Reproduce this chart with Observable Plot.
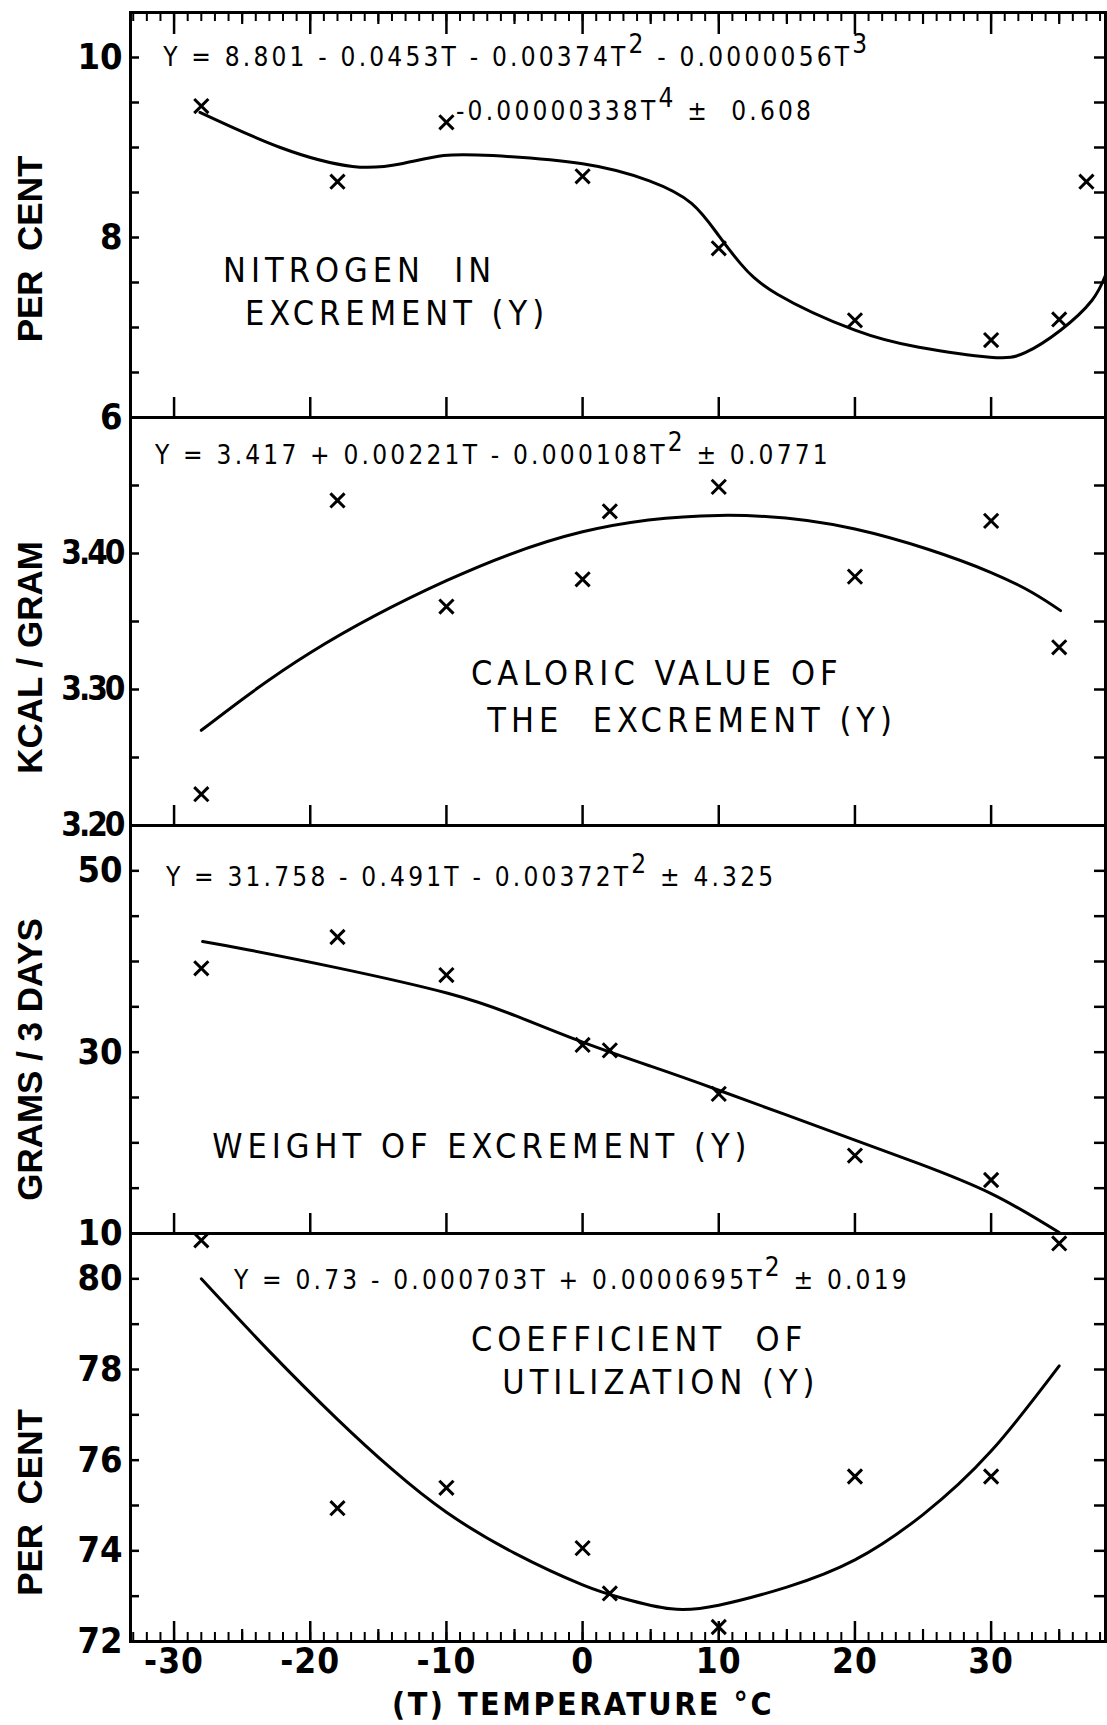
<!DOCTYPE html>
<html><head><meta charset="utf-8">
<script src="https://cdn.jsdelivr.net/npm/d3@7"></script>
<script src="https://cdn.jsdelivr.net/npm/@observablehq/plot@0.6"></script>
<style>
body{margin:0;background:#fff;}
#chart{position:relative;width:1107px;height:1725px;overflow:hidden;}
#chart svg{position:absolute;left:0;overflow:visible;background:transparent;}
g[aria-description="formula"] text{letter-spacing:3.2px;}
g[aria-description="caption"] text{letter-spacing:5px;}
g[aria-label="x-axis tick label"] text{letter-spacing:1px;}
g[aria-description="temperature title"] text{letter-spacing:2.5px;}
svg.tight g[aria-label="y-axis tick label"] text{letter-spacing:-3px;}
</style></head><body><div id="chart"></div>
<script>
// ---------- data ----------
const tempTicksMajor = [-30, -20, -10, 0, 10, 20, 30];
const tempTicksMid = [-25, -15, -5, 5, 15, 25, 35];
const tempTicksMinor = d3.range(-33, 39);

const nitrogenT = [-28, -18, -10, 0, 10, 20, 30, 35, 37];
const nitrogenPct = [9.46, 8.62, 9.28, 8.68, 7.88, 7.08, 6.86, 7.09, 8.62];
const nitrogenFitT = [-28.1, -22.2, -16.9, -13.3, -10.2, -6.6, 0, 4.9, 8.0, 10, 11.6, 14.3, 20, 24.7, 29.9, 32.5, 35.1, 37.4, 38.4];
const nitrogenFitPct = [9.39, 9.00, 8.79, 8.82, 8.91, 8.91, 8.82, 8.63, 8.38, 8.02, 7.71, 7.37, 6.97, 6.78, 6.67, 6.72, 6.97, 7.30, 7.58];

const caloricT = [-28, -18, -10, 0, 2, 10, 20, 30, 35];
const caloricKcal = [3.223, 3.439, 3.361, 3.381, 3.431, 3.449, 3.383, 3.424, 3.331];
const caloricFitT = [-28, -20, -10, 0, 10, 20, 30, 35.1];
const caloricFitKcal = [3.270, 3.327, 3.380, 3.416, 3.428, 3.418, 3.386, 3.358];

const weightT = [-28, -18, -10, 0, 2, 10, 20, 30];
const weightGrams = [39.25, 42.7, 38.5, 30.8, 30.2, 25.4, 18.6, 15.9];
const weightFitT = [-27.9, -24.6, -18, -9.9, -4.9, 0, 4.9, 10, 20, 24.7, 30, 35];
const weightFitGrams = [42.2, 41.3, 39.3, 36.5, 34.0, 31.1, 28.5, 25.8, 20.3, 17.7, 14.4, 10.1];

const coefT = [-28, -18, -10, 0, 2, 10, 20, 30, 35];
const coefPct = [80.85, 74.94, 75.39, 74.06, 73.06, 72.32, 75.64, 75.64, 80.78];
const coefFitT = [-28, -23, -18, -14, -10, -5, 0, 3, 6.5, 10, 15, 20, 25, 30, 35];
const coefFitPct = [80.0, 78.4, 76.9, 75.8, 74.85, 73.95, 73.25, 72.95, 72.72, 72.8, 73.2, 73.8, 74.8, 76.2, 78.08];

const nitrogenTicks = [6, 6.5, 7, 7.5, 8, 8.5, 9, 9.5, 10];
const nitrogenLabels = [6, 8, 10];
const caloricTicks = [3.2, 3.25, 3.3, 3.35, 3.4, 3.45];
const caloricLabels = [3.2, 3.3, 3.4];
const weightTicks = [10, 15, 20, 25, 30, 35, 40, 45, 50];
const weightLabels = [10, 30, 50];
const coefTicks = [72, 73, 74, 75, 76, 77, 78, 79, 80];
const coefLabels = [72, 74, 76, 78, 80];

// ---------- helpers ----------
const FN = "'Liberation Sans Narrow','DejaVu Sans Condensed','Arial Narrow',sans-serif";
const FB = "'Liberation Sans',Arial,sans-serif";
const zipPts = (ts, vs) => ts.map((t, i) => ({t, v: vs[i]}));
const xDomain = [-33.2, 38.4];
const W = 1107, ML = 130, MR = 2, innerW = W - ML - MR;

const panels = [
  {
    top: 0, mTop: 12, frameH: 405, mBottom: 20, yDomain: [6, 10.5],
    ticks: nitrogenTicks, labels: nitrogenLabels, fmt: d => String(d), tight: false,
    title: "PER  CENT", titleDy: 34,
    pts: zipPts(nitrogenT, nitrogenPct), fit: zipPts(nitrogenFitT, nitrogenFitPct),
    formulas: [
      {t: -30.8, v: 10.0, s: "Y = 8.801 - 0.0453T - 0.00374T^2 - 0.0000056T^3"},
      {t: -9.3, v: 9.4, s: "-0.00000338T^4 ±  0.608"}
    ],
    captions: [
      {t: -26.4, v: 7.63, s: "NITROGEN  IN"},
      {t: -24.8, v: 7.15, s: "EXCREMENT (Y)"}
    ],
    topAxis: true, last: false
  },
  {
    top: 397, mTop: 20, frameH: 408, mBottom: 20, yDomain: [3.2, 3.5],
    ticks: caloricTicks, labels: caloricLabels, fmt: d3.format(".2f"), tight: true,
    title: "KCAL / GRAM", titleDy: 36,
    pts: zipPts(caloricT, caloricKcal), fit: zipPts(caloricFitT, caloricFitKcal),
    formulas: [{t: -31.4, v: 3.472, s: "Y = 3.417 + 0.00221T - 0.000108T^2 ± 0.0771"}],
    captions: [
      {t: -8.2, v: 3.311, s: "CALORIC VALUE OF"},
      {t: -7.0, v: 3.277, s: "THE  EXCREMENT (Y)"}
    ],
    topAxis: false, last: false
  },
  {
    top: 805, mTop: 20, frameH: 408, mBottom: 20, yDomain: [10, 55],
    ticks: weightTicks, labels: weightLabels, fmt: d => String(d), tight: false,
    title: "GRAMS / 3 DAYS", titleDy: 30,
    pts: zipPts(weightT, weightGrams), fit: zipPts(weightFitT, weightFitGrams),
    formulas: [{t: -30.6, v: 49.3, s: "Y = 31.758 - 0.491T - 0.00372T^2 ± 4.325"}],
    captions: [{t: -27.2, v: 19.5, s: "WEIGHT OF EXCREMENT (Y)"}],
    topAxis: false, last: false
  },
  {
    top: 1213, mTop: 20, frameH: 408, mBottom: 84, yDomain: [72, 81],
    ticks: coefTicks, labels: coefLabels, fmt: d => String(d), tight: false,
    title: "PER  CENT", titleDy: 65,
    pts: zipPts(coefT, coefPct), fit: zipPts(coefFitT, coefFitPct),
    formulas: [{t: -25.6, v: 79.96, s: "Y = 0.73 - 0.000703T + 0.0000695T^2 ± 0.019"}],
    captions: [
      {t: -8.2, v: 78.65, s: "COEFFICIENT  OF"},
      {t: -5.9, v: 77.7, s: "UTILIZATION (Y)"}
    ],
    topAxis: false, last: true
  }
];

function superscripts(svg) {
  svg.querySelectorAll('g[aria-description="formula"] text').forEach(t => {
    const src = t.textContent;
    if (!src.includes("^")) return;
    const parts = src.split(/\^(\d)/);
    while (t.firstChild) t.removeChild(t.firstChild);
    parts.forEach((p, i) => {
      const ts = document.createElementNS("http://www.w3.org/2000/svg", "tspan");
      ts.textContent = p;
      if (i % 2 === 1) ts.setAttribute("dy", "-13");
      else if (i > 0) ts.setAttribute("dy", "13");
      t.appendChild(ts);
    });
  });
}

const chart = document.getElementById("chart");
panels.forEach(p => {
  const marks = [
    Plot.frame({stroke: "black", strokeWidth: 3}),
    Plot.tickY(p.ticks, {y: d => d, insetRight: innerW - 9, strokeWidth: 2.5}),
    Plot.axisY(p.ticks, {anchor: "right", tickSize: -12, strokeWidth: 2.5, fill: "none"}),
    Plot.axisY(p.labels, {anchor: "left", tickSize: 0, tickPadding: 8, tickFormat: p.fmt,
      fontSize: p.tight ? 33 : 36, fontWeight: "bold", fontFamily: FN, label: null}),
    Plot.text([p.title], {frameAnchor: "left", dx: -100, dy: p.titleDy, rotate: -90,
      textAnchor: "middle", lineAnchor: "middle",
      fontSize: 35, fontWeight: "bold", fontFamily: FB, text: d => d}),
    Plot.line(p.fit, {x: "t", y: "v", curve: "natural", stroke: "black", strokeWidth: 3}),
    Plot.dot(p.pts, {x: "t", y: "v", symbol: "times", r: 6.5, stroke: "black", strokeWidth: 3}),
    Plot.text(p.formulas, {x: "t", y: "v", text: "s", textAnchor: "start", fontSize: 26,
      fontFamily: FN, ariaDescription: "formula"}),
    Plot.text(p.captions, {x: "t", y: "v", text: "s", textAnchor: "start", fontSize: 34,
      fontFamily: FN, ariaDescription: "caption"})
  ];
  if (p.topAxis) {
    marks.push(
      Plot.tickX(tempTicksMinor, {x: d => d, insetBottom: p.frameH - 9, strokeWidth: 2}),
      Plot.tickX(tempTicksMid, {x: d => d, insetBottom: p.frameH - 12, strokeWidth: 2.2}),
      Plot.tickX(tempTicksMajor, {x: d => d, insetBottom: p.frameH - 22, strokeWidth: 2.5})
    );
  }
  if (p.last) {
    marks.push(
      Plot.axisX(tempTicksMinor, {anchor: "bottom", tickSize: -9, strokeWidth: 2, fill: "none"}),
      Plot.axisX(tempTicksMid, {anchor: "bottom", tickSize: -12, strokeWidth: 2.2, fill: "none"}),
      Plot.axisX(tempTicksMajor, {anchor: "bottom", tickSize: -20, strokeWidth: 2.5, fill: "none"}),
      Plot.axisX(tempTicksMajor, {anchor: "bottom", tickSize: 0, tickPadding: 7, fontSize: 35,
        tickFormat: d => String(d), fontWeight: "bold", fontFamily: FN, label: null}),
      Plot.text(["(T) TEMPERATURE °C"], {frameAnchor: "bottom", dx: -35, dy: 63, lineAnchor: "middle",
        textAnchor: "middle", fontSize: 32, fontWeight: "bold",
        fontFamily: FN, text: d => d, ariaDescription: "temperature title"})
    );
  } else {
    marks.push(Plot.axisX(tempTicksMajor, {anchor: "bottom", tickSize: -20, strokeWidth: 2.5, fill: "none"}));
  }
  const svg = Plot.plot({
    width: W, height: p.mTop + p.frameH + p.mBottom,
    marginLeft: ML, marginRight: MR, marginTop: p.mTop, marginBottom: p.mBottom,
    x: {domain: xDomain}, y: {domain: p.yDomain},
    style: {color: "black", background: "transparent", overflow: "visible"},
    marks
  });
  svg.style.top = p.top + "px";
  if (p.tight) svg.classList.add("tight");
  superscripts(svg);
  chart.appendChild(svg);
});
</script>
</body></html>
